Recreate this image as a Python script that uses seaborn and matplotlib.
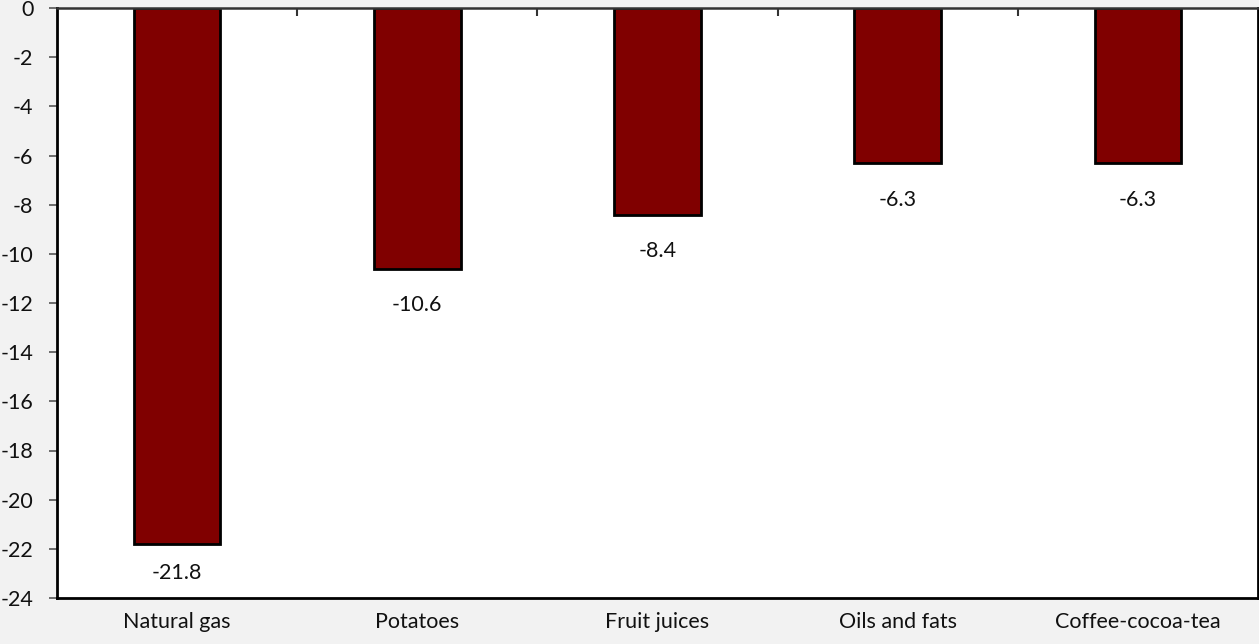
import pandas as pd
import seaborn as sns
from matplotlib import pyplot as plt

categories = ["Natural gas", "Potatoes", "Fruit juices", "Oils and fats", "Coffee-cocoa-tea"]
values = [-21.8, -10.6, -8.4, -6.3, -6.3]
yticks = list(range(0, -25, -2))

sns.set_theme(style="white")
plt.rcParams['font.family'] = ['Lato', 'DejaVu Sans']

df = pd.DataFrame({"category": categories, "value": values})

fig = plt.figure(figsize=(12.59, 6.44), dpi=100)
fig.patch.set_facecolor("#f2f2f2")
ax = fig.add_axes([57 / 1259, 46 / 644, 1201 / 1259, 590 / 644])
ax.set_facecolor("white")

sns.barplot(data=df, x="category", y="value", color="#800000", saturation=1,
            edgecolor="black", linewidth=2, width=0.36, ax=ax)

# value labels under the bar ends, kept inside the plot area
for i, v in enumerate(values):
    ax.text(i, max(v - 1.5, -23.0), f"{v:.1f}", ha="center", va="center",
            fontsize=15.5, color="#111111")

ax.set_ylim(-24, 0)
ax.set_xlim(-0.5, len(categories) - 0.5)
ax.set_yticks(yticks)
ax.set_yticklabels([str(t) for t in yticks])
ax.set_xlabel("")
ax.set_ylabel("")

# category boundary ticks along the zero line (top)
ax.set_xticks([i + 0.5 for i in range(len(categories) - 1)], minor=True)
ax.tick_params(axis="x", which="minor", top=True, bottom=False, direction="in",
               length=6, width=1.5, color="#333333")
ax.tick_params(axis="x", which="major", length=0, pad=10, labelsize=15.5, labelcolor="#111111")
ax.tick_params(axis="y", left=True, direction="out", length=6, width=1.2,
               color="#555555", pad=11, labelsize=15.5, labelcolor="#111111")

for side in ["left", "bottom", "right"]:
    ax.spines[side].set_color("black")
    ax.spines[side].set_linewidth(2)
ax.spines["top"].set_color("#333333")
ax.spines["top"].set_linewidth(1.8)

fig.savefig("out.png", dpi=100, facecolor=fig.get_facecolor())
